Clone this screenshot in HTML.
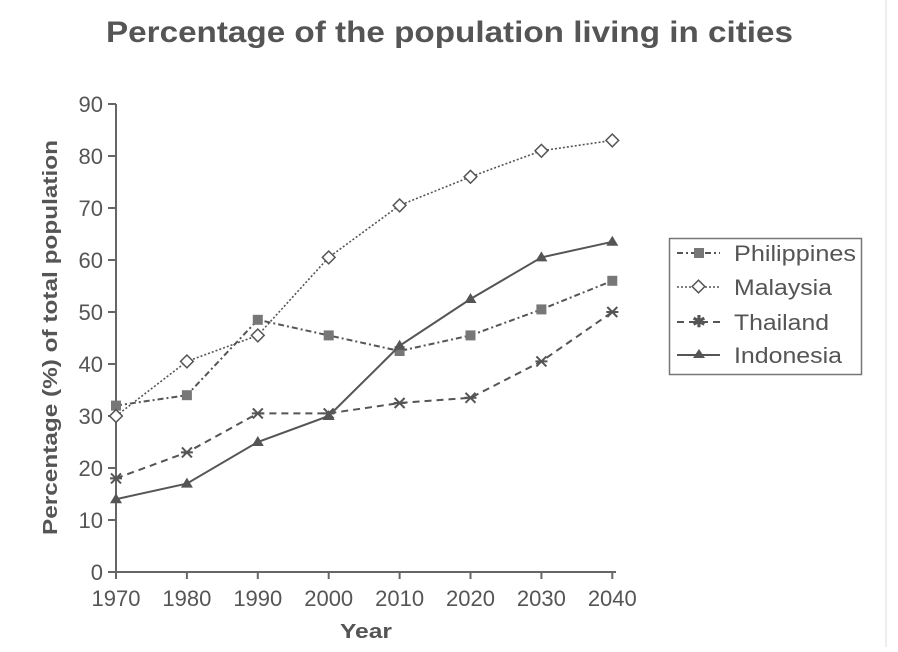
<!DOCTYPE html>
<html><head><meta charset="utf-8"><style>
body{margin:0;background:#fff;width:898px;height:647px;overflow:hidden}
text{font-family:"Liberation Sans",sans-serif;fill:#555}
</style></head><body>
<svg id="s" width="898" height="647" viewBox="0 0 898 647" xmlns="http://www.w3.org/2000/svg">
<rect x="0" y="0" width="898" height="647" fill="#fff"/>
<line x1="886" y1="0" x2="886" y2="647" stroke="#eee" stroke-width="2"/>
<text x="106" y="42" font-size="30" font-weight="bold" fill="#666" textLength="687" lengthAdjust="spacingAndGlyphs">Percentage of the population living in cities</text>
<text transform="translate(57,535) rotate(-90)" font-size="20" font-weight="bold" fill="#555" textLength="395" lengthAdjust="spacingAndGlyphs">Percentage (%) of total population</text>
<text x="340" y="638" font-size="20" font-weight="bold" fill="#555" textLength="52" lengthAdjust="spacingAndGlyphs">Year</text>
<g id="g"></g>
<rect x="669.5" y="238.5" width="192" height="136" fill="#fff" stroke="#777" stroke-width="1.5"/>
<g stroke="#555" stroke-width="2" fill="none">
<line x1="677" y1="253" x2="720" y2="253" stroke-dasharray="6,3,2,3"/>
<line x1="677" y1="287" x2="720" y2="287" stroke-dasharray="2,2" stroke-width="1.5"/>
<line x1="677" y1="322" x2="720" y2="322" stroke-dasharray="7,5"/>
<line x1="677" y1="355" x2="720" y2="355"/>
</g>
<rect x="694" y="248" width="10" height="10" fill="#777"/>
<rect x="694" y="282" width="9" height="9" fill="#fff" stroke="#555" stroke-width="1.5" transform="rotate(45 698.5 286.5)"/>
<text x="699" y="327" text-anchor="middle" font-size="16" fill="#555" font-weight="bold">✱</text>
<polygon points="699,349 705,358 693,358" fill="#555"/>
<g font-size="22" fill="#666">
<text x="734" y="261" textLength="122" lengthAdjust="spacingAndGlyphs">Philippines</text>
<text x="734" y="295" textLength="98" lengthAdjust="spacingAndGlyphs">Malaysia</text>
<text x="734" y="330" textLength="95" lengthAdjust="spacingAndGlyphs">Thailand</text>
<text x="734" y="363" textLength="108" lengthAdjust="spacingAndGlyphs">Indonesia</text>
</g>
</svg>
<script>
var g=document.getElementById('g'),h='';
function X(i){return 116+i*70.9}function Y(v){return 572-5.2*v}
h+='<line x1="116" y1="104" x2="116" y2="572" stroke="#666" stroke-width="2"/>';
h+='<line x1="116" y1="572" x2="616" y2="572" stroke="#666" stroke-width="2"/>';
for(var v=0;v<=90;v+=10){h+='<line x1="108" y1="'+Y(v)+'" x2="116" y2="'+Y(v)+'" stroke="#666" stroke-width="2"/>';
h+='<text x="103" y="'+(Y(v)+8)+'" text-anchor="end" font-size="22" fill="#666">'+v+'</text>';}
for(var i=0;i<8;i++){h+='<line x1="'+X(i)+'" y1="572" x2="'+X(i)+'" y2="579" stroke="#666" stroke-width="2"/>';
h+='<text x="'+X(i)+'" y="606" text-anchor="middle" font-size="22" fill="#666">'+(1970+i*10)+'</text>';}
var S=[[[32,34,48.5,45.5,42.5,45.5,50.5,56],'6,3,2,3','sq'],
[[30,40.5,45.5,60.5,70.5,76,81,83],'2,2','di'],
[[18,23,30.5,30.5,32.5,33.5,40.5,50],'7,5','x'],
[[14,17,25,30,43.5,52.5,60.5,63.5],'','tri']];
S.forEach(function(s){var p=s[0].map(function(v,i){return X(i)+','+Y(v)}).join(' ');
h+='<polyline points="'+p+'" fill="none" stroke="#555" stroke-width="'+(s[2]=='di'?1.6:2)+'" '+(s[1]?'stroke-dasharray="'+s[1]+'"':'')+'/>';
s[0].forEach(function(v,i){var x=X(i),y=Y(v);
if(s[2]=='sq')h+='<rect x="'+(x-5)+'" y="'+(y-5)+'" width="10" height="10" fill="#777"/>';
if(s[2]=='di')h+='<rect x="'+(x-4.5)+'" y="'+(y-4.5)+'" width="9" height="9" fill="#fff" stroke="#555" stroke-width="1.5" transform="rotate(45 '+x+' '+y+')"/>';
if(s[2]=='x')h+='<path d="M'+(x-5)+' '+(y-5)+'L'+(x+5)+' '+(y+5)+'M'+(x-5)+' '+(y+5)+'L'+(x+5)+' '+(y-5)+'M'+(x-6)+' '+y+'L'+(x+6)+' '+y+'" stroke="#555" stroke-width="2"/>';
if(s[2]=='tri')h+='<polygon points="'+x+','+(y-6)+' '+(x+6)+','+(y+4)+' '+(x-6)+','+(y+4)+'" fill="#555"/>';});});
g.innerHTML=h;
</script>
</body></html>
